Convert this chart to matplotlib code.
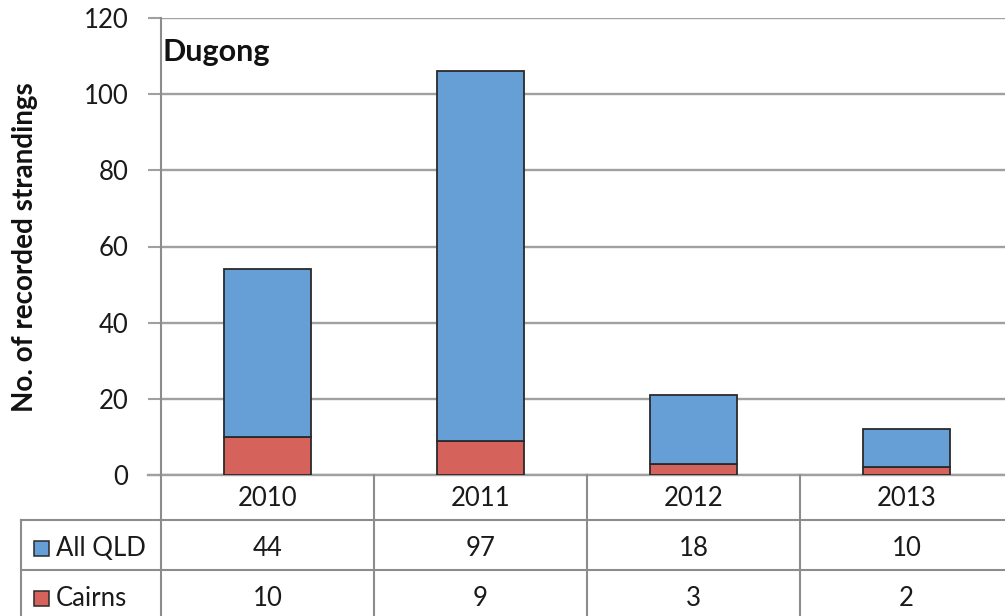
import matplotlib
matplotlib.use("Agg")
import matplotlib.pyplot as plt
from matplotlib.patches import Rectangle
import matplotlib.transforms as mtransforms

plt.rcParams['font.family'] = ['Lato', 'DejaVu Sans']

years = ["2010", "2011", "2012", "2013"]
all_qld = [44, 97, 18, 10]
cairns = [10, 9, 3, 2]
series_names = ["All QLD", "Cairns"]
blue = "#659FD6"
red = "#D6625C"
grid_c = "#A0A0A0"
line_c = "#8C8C8C"
txt_c = "#1a1a1a"
fs = 18.5

W, H = 1005, 616
fig = plt.figure(figsize=(W / 100, H / 100), dpi=100)
left_px, right_px, top_px, bot_px = 161, 1013, 18, 475
ax = fig.add_axes([left_px / W, 1 - bot_px / H,
                   (right_px - left_px) / W, (bot_px - top_px) / H])

x = list(range(len(years)))
bw = 0.41
ax.bar(x, cairns, bw, color=red, edgecolor="#2a2a2a", linewidth=1.3, zorder=3)
ax.bar(x, all_qld, bw, bottom=cairns, color=blue, edgecolor="#2a2a2a",
       linewidth=1.3, zorder=3)

ax.set_xlim(-0.5, len(years) - 0.5)
ax.set_ylim(0, 120)
ax.set_yticks(range(0, 121, 20))
ax.yaxis.grid(True, color=grid_c, linewidth=1.7, zorder=0)
ax.set_axisbelow(True)
for s in ["top", "right", "bottom"]:
    ax.spines[s].set_visible(False)
ax.spines["left"].set_color(line_c)
ax.spines["left"].set_linewidth(1.5)
ax.tick_params(axis="y", length=9.5, width=1.5, color=grid_c,
               labelsize=fs, pad=14, labelcolor=txt_c)
ax.tick_params(axis="x", length=0, labelbottom=False)

ax.text(0.002, 0.925, "Dugong", transform=ax.transAxes, fontsize=22,
        fontweight="bold", ha="left", va="center", color="#111111")

fig.text(25 / W, 1 - 247 / H, "No. of recorded strandings", rotation=90,
         ha="center", va="center", fontsize=20, fontweight="bold",
         color="#111111")

# data table under the axis
trans = mtransforms.blended_transform_factory(ax.transData, ax.transAxes)
ph = bot_px - top_px


def yf(py):
    return (bot_px - py) / ph


def xd(px):
    return -0.5 + (px - left_px) / ((right_px - left_px) / len(years))


row_lines = [520, 570]
x_table_left = xd(21)
ax.plot([-0.5 - 0.06, len(years) - 0.5], [0, 0], transform=trans, color=grid_c,
        linewidth=1.7, clip_on=False, zorder=2)
for py in row_lines:
    ax.plot([x_table_left, len(years) - 0.5], [yf(py), yf(py)], transform=trans,
            color=line_c, linewidth=1.5, clip_on=False)
for i in range(len(years) + 1):
    ax.plot([i - 0.5, i - 0.5], [0, yf(H + 5)], transform=trans, color=line_c,
            linewidth=1.5, clip_on=False)
ax.plot([x_table_left, x_table_left], [yf(row_lines[0]), yf(H + 5)],
        transform=trans, color=line_c, linewidth=1.5, clip_on=False)

text_kw = dict(transform=trans, ha="center", va="center", fontsize=fs,
               color=txt_c, clip_on=False)
for i, yr in enumerate(years):
    ax.text(i, yf(499), yr, **text_kw)
    ax.text(i, yf(548), str(all_qld[i]), **text_kw)
    ax.text(i, yf(598), str(cairns[i]), **text_kw)

sq = 15 / ((right_px - left_px) / len(years))
sqh = 15 / ph
for name, col, py in zip(series_names, [blue, red], [548, 598]):
    ax.add_patch(Rectangle((xd(34), yf(py) - sqh / 2), sq, sqh, transform=trans,
                           facecolor=col, edgecolor="#2a2a2a", linewidth=1.1,
                           clip_on=False))
    ax.text(xd(56), yf(py), name, transform=trans, ha="left", va="center",
            fontsize=fs, color=txt_c, clip_on=False)

fig.savefig("out.png", dpi=100)
